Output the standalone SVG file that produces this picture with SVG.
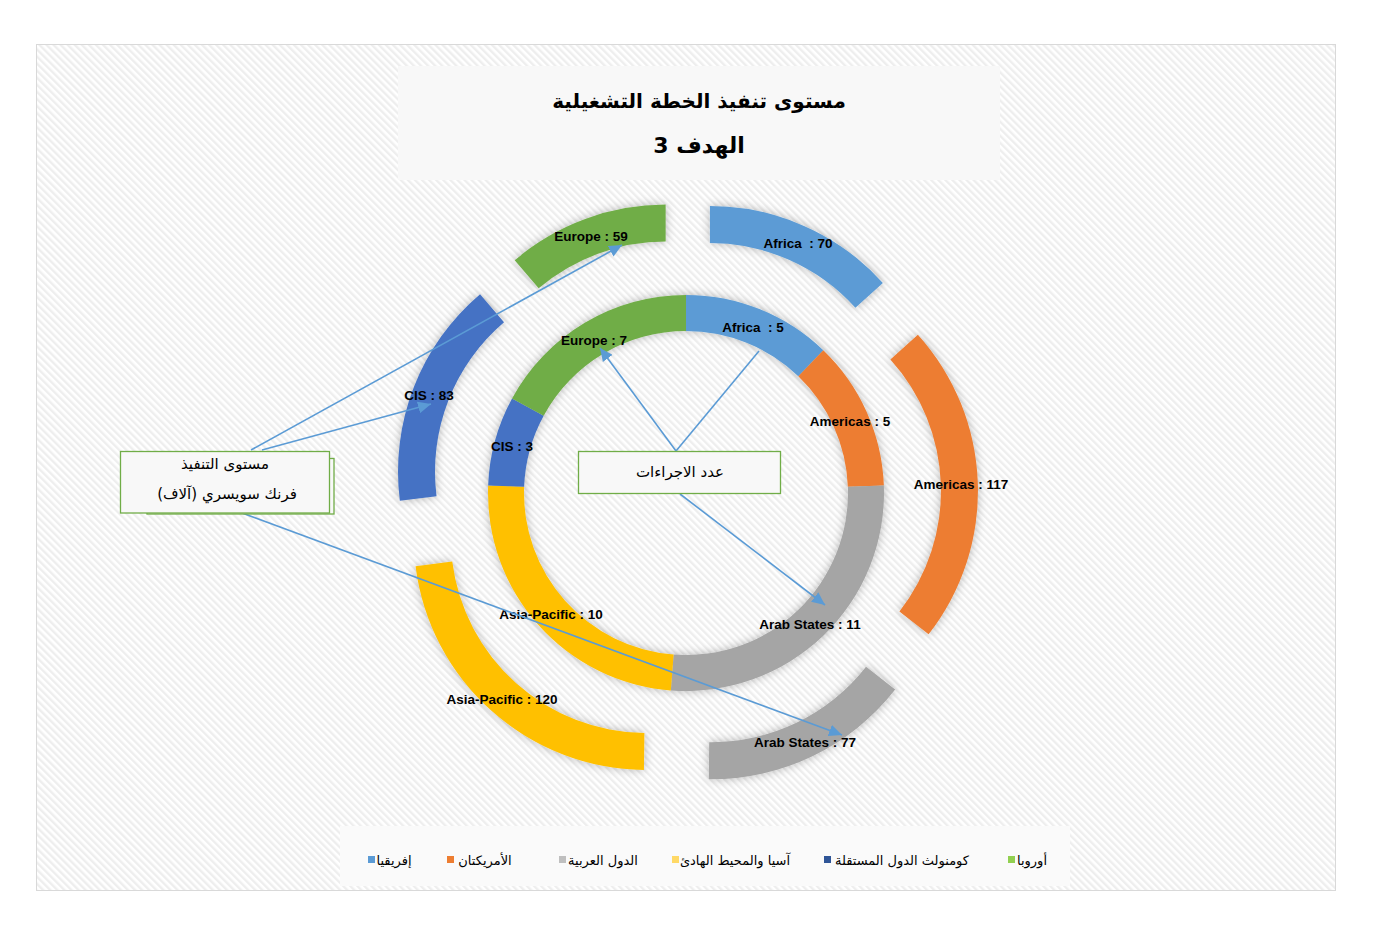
<svg xmlns="http://www.w3.org/2000/svg" width="1378" height="945" viewBox="0 0 1378 945">
<defs>
<pattern id="hatch" width="5" height="5" patternUnits="userSpaceOnUse" patternTransform="rotate(-45)">
<rect width="5" height="5" fill="#ffffff"/>
<rect width="2.4" height="5" fill="#eeeeee"/>
</pattern>
<filter id="shadow" x="-20%" y="-20%" width="140%" height="140%">
<feDropShadow dx="0" dy="0" stdDeviation="5" flood-color="#000" flood-opacity="0.28"/>
</filter>
<marker id="arrow" markerUnits="userSpaceOnUse" markerWidth="14" markerHeight="12" refX="13" refY="6" orient="auto">
<path d="M0,0 L13,6 L0,12 z" fill="#5b9bd5"/>
</marker>
</defs>
<style>
.lbl{font-family:"Liberation Sans",Arial,sans-serif;font-weight:bold;font-size:13.5px;fill:#000;text-anchor:middle;white-space:pre}
.ar{font-family:"DejaVu Sans",sans-serif;fill:#000;text-anchor:middle}
.conn{stroke:#5b9bd5;stroke-width:1.6;fill:none}
.box{fill:#f8f8f8;stroke:#70ad47;stroke-width:1.3}
</style>

<rect x="36.5" y="44.5" width="1299" height="846" fill="url(#hatch)" stroke="#d9d9d9" stroke-width="1"/>

<g id="title">
<rect x="398" y="66" width="602" height="114" fill="#f8f8f8"/>
<text class="ar" x="699" y="108" font-size="20" font-weight="bold" direction="rtl">مستوى تنفيذ الخطة التشغيلية</text>
<text class="ar" x="699" y="153" font-size="22" font-weight="bold" direction="rtl">الهدف 3</text>
</g>

<g id="inner-ring" filter="url(#shadow)">
<path id="inner-africa" fill="#5b9bd5" d="M686,295 A198,198 0 0 1 823.29,350.33 L798.33,376.27 A162,162 0 0 0 686,331 Z"/>
<path id="inner-americas" fill="#ed7d31" d="M823.29,350.33 A198,198 0 0 1 883.86,485.42 L847.88,486.80 A162,162 0 0 0 798.33,376.27 Z"/>
<path id="inner-arab" fill="#a5a5a5" d="M883.86,485.42 A198,198 0 0 1 670.84,690.42 L673.60,654.53 A162,162 0 0 0 847.88,486.80 Z"/>
<path id="inner-asia" fill="#ffc000" d="M670.84,690.42 A198,198 0 0 1 488.14,485.42 L524.12,486.80 A162,162 0 0 0 673.60,654.53 Z"/>
<path id="inner-cis" fill="#4472c4" d="M488.14,485.42 A198,198 0 0 1 512.04,398.44 L543.67,415.63 A162,162 0 0 0 524.12,486.80 Z"/>
<path id="inner-europe" fill="#70ad47" d="M512.04,398.44 A198,198 0 0 1 686,295 L686,331 A162,162 0 0 0 543.67,415.63 Z"/>
</g>

<g id="outer-ring" filter="url(#shadow)">
<path id="outer-africa" fill="#5b9bd5" d="M709.95,206.08 A233,233 0 0 1 882.85,282.90 L855.40,307.70 A196,196 0 0 0 709.95,243.08 Z"/>
<path id="outer-americas" fill="#ed7d31" d="M917.86,334.71 A233,233 0 0 1 928.60,634.29 L899.44,611.52 A196,196 0 0 0 890.41,359.51 Z"/>
<path id="outer-arab" fill="#a5a5a5" d="M895.19,689.58 A233,233 0 0 1 708.76,779.16 L709.21,742.17 A196,196 0 0 0 866.03,666.81 Z"/>
<path id="outer-asia" fill="#ffc000" d="M643.92,770.00 A233,233 0 0 1 415.54,566.17 L452.25,561.54 A196,196 0 0 0 644.37,733.01 Z"/>
<path id="outer-cis" fill="#4472c4" d="M399.83,500.80 A233,233 0 0 1 480.05,294.16 L504.02,322.34 A196,196 0 0 0 436.54,496.17 Z"/>
<path id="outer-europe" fill="#70ad47" d="M514.69,260.13 A233,233 0 0 1 665.64,204.62 L665.64,241.62 A196,196 0 0 0 538.66,288.31 Z"/>
</g>

<g id="data-labels">
<text class="lbl" x="591" y="241">Europe : 59</text>
<text class="lbl" x="798" y="248" xml:space="preserve">Africa  : 70</text>
<text class="lbl" x="753" y="332" xml:space="preserve">Africa  : 5</text>
<text class="lbl" x="594" y="345">Europe : 7</text>
<text class="lbl" x="429" y="400">CIS : 83</text>
<text class="lbl" x="512" y="451">CIS : 3</text>
<text class="lbl" x="850" y="426">Americas : 5</text>
<text class="lbl" x="961" y="489">Americas : 117</text>
<text class="lbl" x="810" y="629">Arab States : 11</text>
<text class="lbl" x="551" y="619">Asia-Pacific : 10</text>
<text class="lbl" x="502" y="704">Asia-Pacific : 120</text>
<text class="lbl" x="805" y="747">Arab States : 77</text>
</g>

<g id="connectors">
<line class="conn" x1="251" y1="450" x2="622" y2="245" marker-end="url(#arrow)"/>
<line class="conn" x1="262" y1="450" x2="431" y2="404" marker-end="url(#arrow)"/>
<line class="conn" x1="242" y1="513" x2="842" y2="735" marker-end="url(#arrow)"/>
<line class="conn" x1="676" y1="451" x2="600" y2="348" marker-end="url(#arrow)"/>
<line class="conn" x1="676" y1="451" x2="759" y2="351"/>
<line class="conn" x1="680" y1="494" x2="825" y2="605" marker-end="url(#arrow)"/>
</g>

<g id="box-execution">
<rect class="box" x="147" y="458.5" width="187" height="55.5" stroke-width="2"/>
<rect class="box" x="120.5" y="451.5" width="209" height="61.5"/>
<text class="ar" x="225" y="469" font-size="15" direction="rtl">مستوى التنفيذ</text>
<text class="ar" x="227" y="499" font-size="15" direction="rtl">فرنك سويسري (آلاف)</text>
</g>

<g id="box-actions">
<rect class="box" x="578.5" y="451.5" width="202" height="42"/>
<text class="ar" x="680" y="477" font-size="15" direction="rtl">عدد الاجراءات</text>
</g>

<g id="legend">
<rect x="340" y="826" width="730" height="60" fill="#fafafa"/>
<rect x="368" y="856" width="7" height="7" fill="#5b9bd5"/>
<text class="ar" x="394" y="865" font-size="13" direction="rtl">إفريقيا</text>
<rect x="447" y="856" width="7" height="7" fill="#ed7d31"/>
<text class="ar" x="485" y="865" font-size="13" direction="rtl">الأمريكتان</text>
<rect x="559" y="856" width="7" height="7" fill="#bfbfbf"/>
<text class="ar" x="603" y="865" font-size="13" direction="rtl">الدول العربية</text>
<rect x="672" y="856" width="7" height="7" fill="#ffd966"/>
<text class="ar" x="735" y="865" font-size="13" direction="rtl">آسيا والمحيط الهادئ</text>
<rect x="824" y="856" width="7" height="7" fill="#2f5597"/>
<text class="ar" x="902" y="865" font-size="13" direction="rtl">كومنولث الدول المستقلة</text>
<rect x="1008" y="856" width="7" height="7" fill="#92d050"/>
<text class="ar" x="1032" y="865" font-size="13" direction="rtl">أوروبا</text>
</g>
</svg>
